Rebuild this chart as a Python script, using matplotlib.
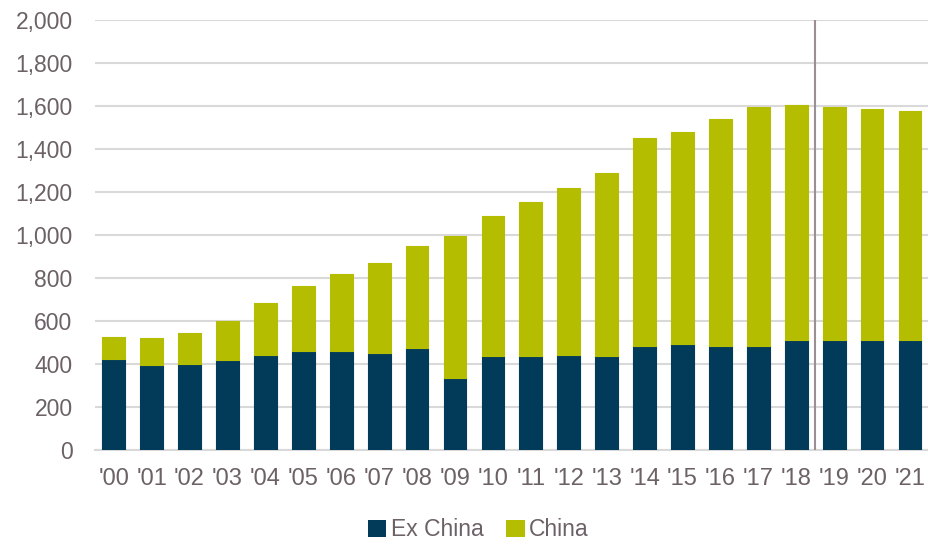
import numpy as np
import matplotlib.pyplot as plt
from matplotlib.patches import Patch

plt.rcParams['font.family'] = ['Liberation Sans', 'DejaVu Sans']

# Yearly totals and the ex-China part
years = ["'00", "'01", "'02", "'03", "'04", "'05", "'06", "'07", "'08", "'09", "'10",
         "'11", "'12", "'13", "'14", "'15", "'16", "'17", "'18", "'19", "'20", "'21"]
total = [526, 522, 545, 599, 683, 765, 819, 869, 951, 998, 1087,
         1153, 1218, 1291, 1450, 1480, 1540, 1594, 1607, 1594, 1587, 1576]
ex_china = [425, 395, 400, 418, 443, 461, 461, 453, 475, 336, 436,
            436, 444, 436, 483, 496, 486, 486, 514, 511, 511, 511]
china = [t - e for t, e in zip(total, ex_china)]

navy = '#023a5a'
green = '#b5bd00'
text_col = '#6b6166'
grid_col = '#d9d9d9'

fig = plt.figure(figsize=(9.29, 5.45), dpi=100)
ax = fig.add_axes([0.102, 0.174, 0.898, 0.789])

x = np.arange(len(years))
w = 0.6
ax.bar(x, ex_china, w, color=navy, edgecolor=navy, linewidth=0.8, joinstyle='round', zorder=3)
ax.bar(x, china, w, bottom=ex_china, color=green, edgecolor=green, linewidth=0.8,
       joinstyle='round', zorder=3)

# divider between actual and forecast years
ax.axvline(18.5, ymin=0, ymax=1, color='#9b8f94', linewidth=1.5, zorder=4)

ax.set_xlim(-0.5, 21.5)
ax.set_ylim(0, 2000)
ax.set_yticks(np.arange(0, 2001, 200))
ax.set_yticklabels([f'{v:,}' for v in range(0, 2001, 200)])
ax.set_xticks(x)
ax.set_xticklabels(years)
ax.yaxis.grid(True, color=grid_col, linewidth=1.5, zorder=0)
ax.set_axisbelow(True)
for s in ['top', 'right', 'left']:
    ax.spines[s].set_visible(False)
ax.spines['bottom'].set_color(grid_col)
ax.spines['bottom'].set_linewidth(1.5)
ax.tick_params(axis='both', length=0, colors=text_col)
ax.tick_params(axis='y', pad=16, labelsize=16.5)
ax.tick_params(axis='x', pad=13, labelsize=17)

handles = [Patch(facecolor=navy, label='Ex China'), Patch(facecolor=green, label='China')]
fig.legend(handles=handles, loc='center', bbox_to_anchor=(0.515, 0.028), ncol=2,
           frameon=False, fontsize=16.5, labelcolor=text_col, handlelength=0.8,
           handleheight=0.8, handletextpad=0.2, columnspacing=1.0)

fig.savefig('out.png', dpi=100)
